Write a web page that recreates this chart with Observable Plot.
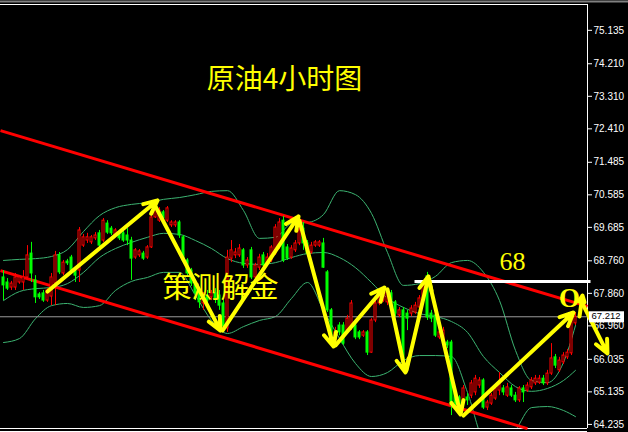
<!DOCTYPE html>
<html>
<head>
<meta charset="utf-8">
<script src="https://cdn.jsdelivr.net/npm/d3@7"></script>
<script src="https://cdn.jsdelivr.net/npm/@observablehq/plot@0.6"></script>
<style>
  html, body { margin: 0; padding: 0; background: #000; }
  #chart svg { display: block; }
</style>
</head>
<body>
<div id="chart"></div>
<script>
// Crude oil, 4-hour candles (price in USD)
const open = [
  68.30,68.16,68.02,68.02,68.16,68.16,68.30,68.96,68.22,67.83,
  67.86,67.66,67.77,68.13,68.91,68.41,68.74,68.85,68.49,68.49,
  69.18,69.32,69.27,69.38,69.52,69.32,69.79,69.65,69.46,69.54,
  69.52,69.46,69.32,68.85,68.91,68.96,68.85,69.13,69.96,69.87,
  70.10,69.87,69.74,69.74,69.82,69.41,68.77,68.49,68.13,67.94,
  67.58,67.80,67.75,67.86,67.80,67.58,66.89,68.82,68.91,68.91,
  69.05,68.63,69.05,68.30,68.57,68.91,68.69,68.77,68.96,69.13,
  69.87,69.13,68.85,69.05,69.24,69.65,69.24,68.99,69.18,69.18,
  69.24,68.44,67.39,66.56,66.97,66.97,66.83,66.92,66.97,66.78,
  66.69,66.78,66.22,67.11,67.58,67.66,67.61,67.86,67.61,67.25,
  67.39,67.30,67.30,67.33,67.47,67.72,68.33,67.30,67.25,66.64,
  66.56,66.50,66.50,65.12,64.98,64.84,64.98,65.03,65.12,65.31,
  65.45,64.70,64.81,64.95,65.17,65.23,65.03,65.23,65.03,64.90,
  65.23,65.17,65.26,65.37,65.39,65.50,65.37,65.64,66.09,65.73,
  65.95,66.09,66.20,67.03
];
const high = [
  68.49,68.27,68.19,68.41,68.35,68.49,69.18,69.27,68.35,67.88,
  67.94,67.99,68.41,69.02,68.99,68.77,68.80,68.91,68.55,69.68,
  69.49,69.52,69.46,69.54,69.60,69.93,69.87,69.71,69.65,69.60,
  69.57,69.65,69.41,69.10,69.07,69.02,69.18,70.10,70.43,70.23,
  70.15,70.26,69.87,69.87,69.87,69.46,68.82,68.55,68.22,68.02,
  67.88,67.94,67.94,67.99,67.94,67.66,69.05,69.32,69.10,69.21,
  69.10,68.85,69.13,68.69,68.94,68.99,68.96,69.18,69.76,69.93,
  69.99,69.21,69.18,69.32,69.87,69.82,69.32,69.27,69.32,69.32,
  69.38,68.49,67.44,66.92,67.05,67.05,67.25,67.66,67.11,66.83,
  66.83,66.83,67.16,67.66,67.88,67.97,67.94,67.94,67.66,67.47,
  67.47,67.39,67.52,67.61,67.80,68.16,68.44,67.39,67.33,66.89,
  66.92,66.56,66.56,65.17,65.03,65.31,65.09,65.45,65.59,65.53,
  65.50,64.90,65.09,65.28,65.67,65.31,65.37,65.31,65.12,65.28,
  65.31,65.39,65.53,65.59,65.59,65.59,65.73,66.47,66.17,66.09,
  66.22,66.31,67.16,67.33
];
const low = [
  67.66,67.94,67.94,67.94,68.11,67.94,68.27,68.16,67.58,67.69,
  67.61,67.61,67.52,67.52,68.38,68.35,68.63,68.44,68.16,68.16,
  69.13,69.24,69.21,69.32,69.10,69.27,69.49,69.46,69.41,69.32,
  69.27,69.18,68.22,68.80,68.85,68.77,68.80,69.10,69.93,69.82,
  69.87,69.82,69.68,69.68,69.38,68.69,68.33,68.05,67.66,67.44,
  67.39,67.52,67.66,67.58,67.39,66.78,66.78,68.71,68.82,68.85,
  68.55,68.55,68.24,68.22,68.49,68.55,68.60,68.71,68.91,69.07,
  68.71,68.77,68.80,68.99,69.18,69.05,68.88,68.94,69.13,69.13,
  68.55,67.33,66.47,66.47,66.69,66.42,66.78,66.83,66.58,66.58,
  66.64,66.14,66.20,67.05,67.52,67.61,67.52,67.47,67.22,67.19,
  65.81,66.83,67.22,67.28,67.41,67.66,67.11,67.05,66.64,66.58,
  66.50,66.33,64.48,64.67,64.62,64.62,64.76,64.95,65.03,65.23,
  64.65,64.62,64.76,64.90,65.03,65.03,64.98,64.98,64.84,64.84,
  64.84,65.12,65.20,65.31,65.34,65.31,65.31,65.59,65.78,65.67,
  65.89,66.03,66.14,66.97
];
const close = [
  68.08,67.99,68.13,68.30,68.30,68.30,68.91,68.41,67.75,67.75,
  67.66,67.94,68.30,68.91,68.44,68.71,68.69,68.49,68.35,69.60,
  69.41,69.41,69.41,69.46,69.18,69.87,69.54,69.52,69.60,69.38,
  69.32,69.32,68.82,69.05,69.02,68.82,69.13,69.96,70.21,70.15,
  69.93,70.21,69.82,69.82,69.46,68.77,68.41,68.13,67.86,67.61,
  67.80,67.66,67.86,67.72,67.52,66.94,68.85,69.05,68.99,69.10,
  68.63,68.77,68.30,68.63,68.85,68.63,68.85,69.13,69.68,69.82,
  68.77,68.82,69.10,69.24,69.60,69.24,68.96,69.18,69.27,69.27,
  68.57,67.39,66.61,66.78,66.78,66.47,67.16,67.58,66.64,66.64,
  66.78,66.22,67.11,67.58,67.75,67.88,67.88,67.52,67.30,67.39,
  66.00,67.16,67.44,67.52,67.72,68.08,67.19,67.16,66.69,66.78,
  66.83,66.42,64.76,64.81,64.76,65.23,64.90,65.37,65.50,65.45,
  64.70,64.84,65.03,65.23,65.39,65.12,65.26,65.03,64.90,65.23,
  65.12,65.31,65.45,65.50,65.50,65.37,65.64,66.06,65.86,66.00,
  66.14,66.22,67.11,67.212
];

// Bollinger bands, sampled every fourth bar
const bandIndex = [0,4,8,12,16,20,24,28,32,36,40,44,48,52,56,60,64,68,72,76,
                   80,84,88,92,96,100,104,108,112,116,120,124,128,132,136,140,143];
const bandUpper = [68.77,68.80,68.82,68.88,69.07,69.57,70.01,70.23,70.32,70.37,
                   70.46,70.51,70.59,70.68,70.70,70.15,69.38,69.41,69.79,69.82,
                   70.04,70.70,70.59,70.07,68.99,68.08,68.13,68.33,68.71,68.77,
                   68.44,67.66,66.28,65.45,65.39,65.95,66.97];
const bandMiddle = [67.66,67.91,67.99,68.02,68.13,68.44,68.85,69.10,69.27,69.41,
                    69.52,69.49,69.32,69.10,68.82,68.69,68.66,68.71,68.85,68.96,
                    68.99,68.85,68.57,68.16,67.72,67.47,67.30,67.22,67.08,66.78,
                    66.11,65.67,65.28,65.15,65.23,65.45,65.73];
const bandLower = [66.50,66.61,67.16,67.52,67.58,67.47,67.52,67.94,68.19,68.30,
                   68.44,68.44,67.80,67.11,66.75,66.94,67.11,67.22,67.72,68.16,
                   67.39,66.61,65.92,65.56,65.67,66.00,66.14,66.14,66.11,65.12,
                   63.79,63.51,64.07,64.70,64.73,64.62,64.45];

// Price axis
const priceTicks = [75.135,74.210,73.310,72.410,71.485,70.585,69.685,68.760,67.860,66.960,66.035,65.135,64.235];
const priceRange = [64.122, 75.849];
const barRange = [-0.75, 146];
const lastPrice = 67.212;
const resistance = 68.19;

// Trend channel (bar index, price)
const channelStart = [[-0.75, 72.36], [-0.75, 68.49]];
const channelEnd = [[146, 67.50], [131, 64.12]];

// Projected swings: [fromBar, fromPrice, toBar, toPrice]
const swings = [
  [11, 67.91, 38.5, 70.43],
  [37.5, 70.37, 54.25, 66.83],
  [54.75, 66.83, 73.75, 69.99],
  [74, 69.87, 82.5, 66.39],
  [83, 66.42, 95.25, 68.02],
  [96, 67.97, 100.5, 65.67],
  [100.75, 65.73, 106.25, 68.33],
  [106.25, 68.27, 114.25, 64.51],
  [115, 64.48, 142.5, 67.33],
  [144, 67.22, 144.75, 67.80],
  [145, 67.52, 151, 66.20]
];

// Annotation texts and anchors
const noteText = ["原油4小时图", "策测解金", "68", "O"];
const noteBar = [70.25, 54.25, 127.25, 141.5];
const notePrice = [73.75, 67.99, 68.74, 67.72];

const candles = open.map((o, i) => ({i, open: o, high: high[i], low: low[i], close: close[i]}));
const ups = candles.filter(d => d.close >= d.open);
const downs = candles.filter(d => d.close < d.open);
const bands = bandIndex.map((b, k) => ({i: b, upper: bandUpper[k], middle: bandMiddle[k], lower: bandLower[k]}));
const channels = channelStart.map((s, k) => ({x1: s[0], y1: s[1], x2: channelEnd[k][0], y2: channelEnd[k][1]}));
const arrows = swings.map(([x1, y1, x2, y2]) => ({x1, y1, x2, y2}));
const notes = noteText.map((t, k) => ({t, x: noteBar[k], y: notePrice[k]}));

const RED = "#ff0000", GREEN = "#00ff00", BAND = "#3cb371", YELLOW = "#ffff00";

const chart = Plot.plot({
  width: 628,
  height: 432,
  marginTop: 4,
  marginBottom: 4,
  marginLeft: 0,
  marginRight: 41,
  style: {background: "#000", color: "#fff", fontFamily: "'Liberation Sans', Arial, sans-serif", fontSize: "10px"},
  x: {domain: barRange, axis: null},
  y: {domain: priceRange, axis: "right", ticks: priceTicks, tickFormat: d => d.toFixed(3), tickSize: 4, tickPadding: 2, label: null},
  marks: [
    // window border and chart frame
    Plot.ruleY([priceRange[1]], {x1: () => barRange[0], x2: () => 160, dy: -3, stroke: "#808080", strokeWidth: 2}),
    Plot.ruleY([priceRange[1]], {stroke: "#fff"}),
    Plot.ruleY([priceRange[0]], {stroke: "#fff"}),
    Plot.ruleY([priceRange[0]], {stroke: "#fff", dy: 3}),
    Plot.ruleX([barRange[1]], {stroke: "#fff"}),

    // Bollinger bands
    Plot.line(bands, {x: "i", y: "upper", stroke: BAND, strokeWidth: 1, curve: "monotone-x", clip: true}),
    Plot.line(bands, {x: "i", y: "middle", stroke: BAND, strokeWidth: 1, curve: "monotone-x", clip: true}),
    Plot.line(bands, {x: "i", y: "lower", stroke: BAND, strokeWidth: 1, curve: "monotone-x", clip: true}),

    // last price line
    Plot.ruleY([lastPrice], {stroke: "#9a9a9a", strokeWidth: 1}),

    // channel
    Plot.link(channels, {x1: "x1", y1: "y1", x2: "x2", y2: "y2", stroke: RED, strokeWidth: 3}),

    // candles: wicks then bodies
    Plot.ruleX(ups, {x: "i", y1: "low", y2: "high", stroke: RED}),
    Plot.ruleX(downs, {x: "i", y1: "low", y2: "high", stroke: GREEN}),
    Plot.rect(downs, {x1: "i", x2: "i", y1: "open", y2: "close", fill: GREEN, insetLeft: -1.5, insetRight: -1.5, insetTop: -0.5, insetBottom: -0.5}),
    Plot.rect(ups, {x1: "i", x2: "i", y1: "open", y2: "close", fill: "#000", stroke: RED, strokeWidth: 1, insetLeft: -1, insetRight: -1}),

    // resistance level
    Plot.link([resistance], {x1: () => 102.75, x2: () => 146.75, y1: d => d, y2: d => d, stroke: "#fff", strokeWidth: 3}),

    // annotation texts
    Plot.text(notes.slice(0, 2), {x: "x", y: "y", text: "t", fill: YELLOW, fontSize: (d) => d.t.length > 4 ? 28 : 29,
      fontFamily: "'Noto Sans CJK SC', sans-serif"}),
    Plot.text(notes.slice(2, 3), {x: "x", y: "y", text: "t", fill: YELLOW, fontSize: 26,
      fontFamily: "'Liberation Serif', serif"}),
    Plot.text(notes.slice(3), {x: "x", y: "y", text: "t", fill: YELLOW, fontSize: 27, fontWeight: "bold",
      fontFamily: "'Liberation Serif', serif"}),

    // swing arrows
    Plot.arrow(arrows, {x1: "x1", y1: "y1", x2: "x2", y2: "y2", stroke: YELLOW, strokeWidth: 4, headLength: 5.5, headAngle: 50}),

    // last price tag
    Plot.rect([lastPrice], {x1: () => barRange[1], x2: () => barRange[1], y1: d => d, y2: d => d,
      insetLeft: 2, insetRight: -37, insetTop: -5, insetBottom: -6, fill: "#fff"}),
    Plot.text([lastPrice], {x: () => barRange[1], y: d => d, text: d => d.toFixed(3), dx: 4, dy: -0.5, textAnchor: "start",
      fill: "#000", fontSize: 9.5})
  ]
});

document.getElementById("chart").append(chart);
</script>
</body>
</html>
